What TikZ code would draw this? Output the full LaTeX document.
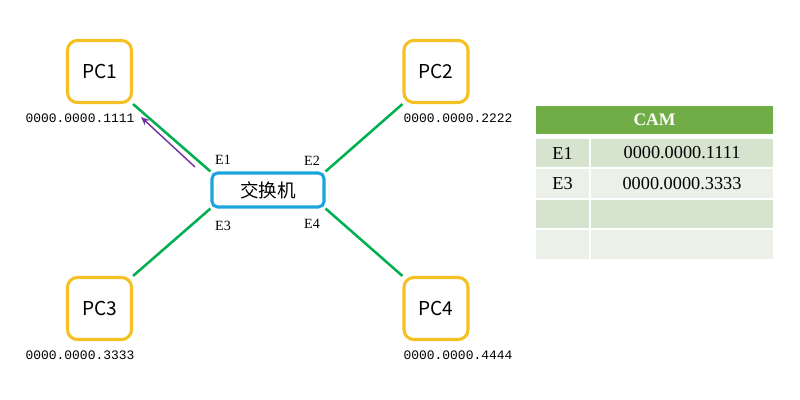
\documentclass[tikz,border=0pt]{standalone}
\usepackage{fontspec}
\setmainfont{Liberation Serif}
\newfontfamily\cjk{Noto Sans CJK SC}
\newfontfamily\macfont{Liberation Mono}
\usetikzlibrary{arrows.meta}
\definecolor{pcyellow}{HTML}{F5C023}
\definecolor{swblue}{HTML}{1AA6DC}
\definecolor{linkgreen}{HTML}{00B050}
\definecolor{arrpurple}{HTML}{7030A0}
\definecolor{camhead}{HTML}{70AD47}
\definecolor{camdark}{HTML}{D5E3CF}
\definecolor{camlight}{HTML}{EBF1E9}
\begin{document}
\begin{tikzpicture}[x=0.025cm, y=-0.025cm,
    pc/.style={draw=pcyellow, line width=2.2pt, rounded corners=7pt, minimum width=1.6cm, minimum height=1.55cm, inner sep=0pt, font=\cjk\fontsize{13.6}{15}\selectfont},
    switch/.style={draw=swblue, line width=2.2pt, rounded corners=4pt, minimum width=2.8cm, minimum height=0.85cm, inner sep=0pt, font=\cjk\fontsize{13.2}{15}\selectfont},
    link/.style={draw=linkgreen, line width=1.8pt},
    mac/.style={font=\macfont\fontsize{9.2}{11}\selectfont},
    port/.style={font=\fontsize{10}{12}\selectfont},
    arr/.style={draw=arrpurple, line width=1pt, -{Stealth[length=6pt, width=5pt]}},
    cell/.style={minimum height=0.72cm, inner sep=0pt, font=\fontsize{13}{15}\selectfont}]
    \useasboundingbox (0,0) rectangle (800,400);

    % Draw the PCs and the switch
    \node[pc] (pc1) at (99.5,71.5) {PC1};
    \node[pc] (pc2) at (436,71.5) {PC2};
    \node[pc] (pc3) at (99.5,308.5) {PC3};
    \node[pc] (pc4) at (436,308.5) {PC4};
    \node[switch] (sw) at (268,190) {交换机};

    % Links between the PCs and the switch
    \draw[link] (pc1.south east) -- (sw.north west);
    \draw[link] (pc2.south west) -- (sw.north east);
    \draw[link] (pc3.north east) -- (sw.south west);
    \draw[link] (pc4.north west) -- (sw.south east);

    % MAC addresses and port names
    \node[mac] (mac1) at (80,118) {0000.0000.1111};
    \node[mac] (mac2) at (458,118) {0000.0000.2222};
    \node[mac] (mac3) at (80,355) {0000.0000.3333};
    \node[mac] (mac4) at (458,355) {0000.0000.4444};
    \node[port] (e1) at (223,160) {E1};
    \node[port] (e2) at (312,161) {E2};
    \node[port] (e3) at (223,226) {E3};
    \node[port] (e4) at (312,224) {E4};

    % Frame going back to PC1
    \coordinate (arrs) at (195,167);
    \coordinate (arre) at (141,117);
    \draw[arr] (arrs) -- (arre);

    % The CAM table
    \node[cell, fill=camhead, minimum width=5.93cm, text=white, font=\bfseries\fontsize{12.5}{15}\selectfont] (cam) at (654.5,120) {CAM};
    \node[cell, fill=camdark, minimum width=1.32cm] (p1) at (562.5,153) {E1};
    \node[cell, fill=camdark, minimum width=4.55cm] (m1) at (682,153) {0000.0000.1111};
    \node[cell, fill=camlight, minimum width=1.32cm] (p2) at (562.5,183.5) {E3};
    \node[cell, fill=camlight, minimum width=4.55cm] (m2) at (682,183.5) {0000.0000.3333};
    \node[cell, fill=camdark, minimum width=1.32cm] (p3) at (562.5,214) {};
    \node[cell, fill=camdark, minimum width=4.55cm] (m3) at (682,214) {};
    \node[cell, fill=camlight, minimum width=1.32cm] (p4) at (562.5,244.5) {};
    \node[cell, fill=camlight, minimum width=4.55cm] (m4) at (682,244.5) {};
\end{tikzpicture}
\end{document}
